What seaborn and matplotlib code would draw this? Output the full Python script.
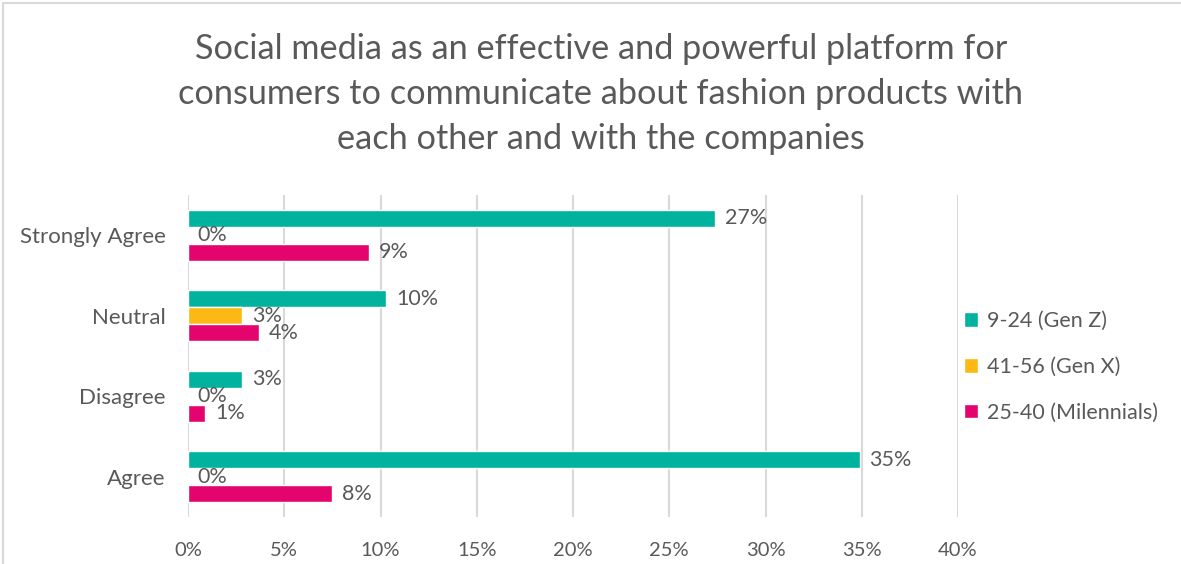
import matplotlib
matplotlib.use("Agg")
import matplotlib.pyplot as plt
from matplotlib.lines import Line2D
import seaborn as sns
import pandas as pd

# Survey responses (share of respondents, %)
categories = ["Strongly Agree", "Neutral", "Disagree", "Agree"]
groups = ["9-24 (Gen Z)", "41-56 (Gen X)", "25-40 (Milennials)"]
gen_z = [27.4, 10.3, 2.8, 34.9]
gen_x = [0.0, 2.8, 0.0, 0.0]
millennials = [9.4, 3.7, 0.9, 7.5]
x_ticks = [0, 5, 10, 15, 20, 25, 30, 35, 40]

colors = ["#00B39E", "#FDB913", "#E4046E"]
text_color = "#595959"

rows = []
for series, name in zip([gen_z, gen_x, millennials], groups):
    for cat, v in zip(categories, series):
        rows.append({"Response": cat, "Group": name, "Share": v})
df = pd.DataFrame(rows)

sns.set_theme(style="white")
plt.rcParams["font.family"] = ["Lato", "DejaVu Sans"]

fig = plt.figure(figsize=(11.81, 5.64), dpi=100)
ax = fig.add_axes([188 / 1181, 1 - 517 / 564, (958 - 188) / 1181, (517 - 195) / 564])

sns.barplot(data=df, y="Response", x="Share", hue="Group", order=categories,
            hue_order=groups, palette=colors, width=0.634, orient="h",
            saturation=1, ax=ax, errorbar=None, zorder=3)

for container in ax.containers:
    labels = [f"{round(b.get_width()):.0f}%" for b in container]
    ax.bar_label(container, labels=labels, padding=7, fontsize=15.5, color=text_color)

ax.set_xlim(0, 40)
ax.set_xticks(x_ticks)
ax.set_xticklabels([f"{t}%" for t in x_ticks], fontsize=14.5, color=text_color)
ax.tick_params(axis="y", labelsize=16, labelcolor=text_color, length=0, pad=16)
ax.tick_params(axis="x", length=0, pad=18)
ax.set_xlabel("")
ax.set_ylabel("")
ax.grid(axis="x", color="#d9d9d9", linewidth=1.5, zorder=0)
ax.grid(axis="y", visible=False)
for s in ax.spines.values():
    s.set_visible(False)

leg = ax.legend(loc="center left", bbox_to_anchor=(0.983, 0.466), frameon=False,
                fontsize=15.5, labelcolor=text_color, handlelength=0.65,
                handleheight=0.65, handletextpad=0.4, labelspacing=1.2)

fig.text(601 / 1181, 1 - 94 / 564,
         "Social media as an effective and powerful platform for\n"
         "consumers to communicate about fashion products with\n"
         "each other and with the companies",
         ha="center", va="center", fontsize=24.7, color=text_color, linespacing=1.5)

# chart frame
fig.add_artist(Line2D([3 / 1181, 1], [1 - 3 / 564, 1 - 3 / 564], color="#d9d9d9", lw=1.5))
fig.add_artist(Line2D([3 / 1181, 3 / 1181], [0, 1 - 3 / 564], color="#d9d9d9", lw=1.5))

fig.savefig("out.png", dpi=100)
